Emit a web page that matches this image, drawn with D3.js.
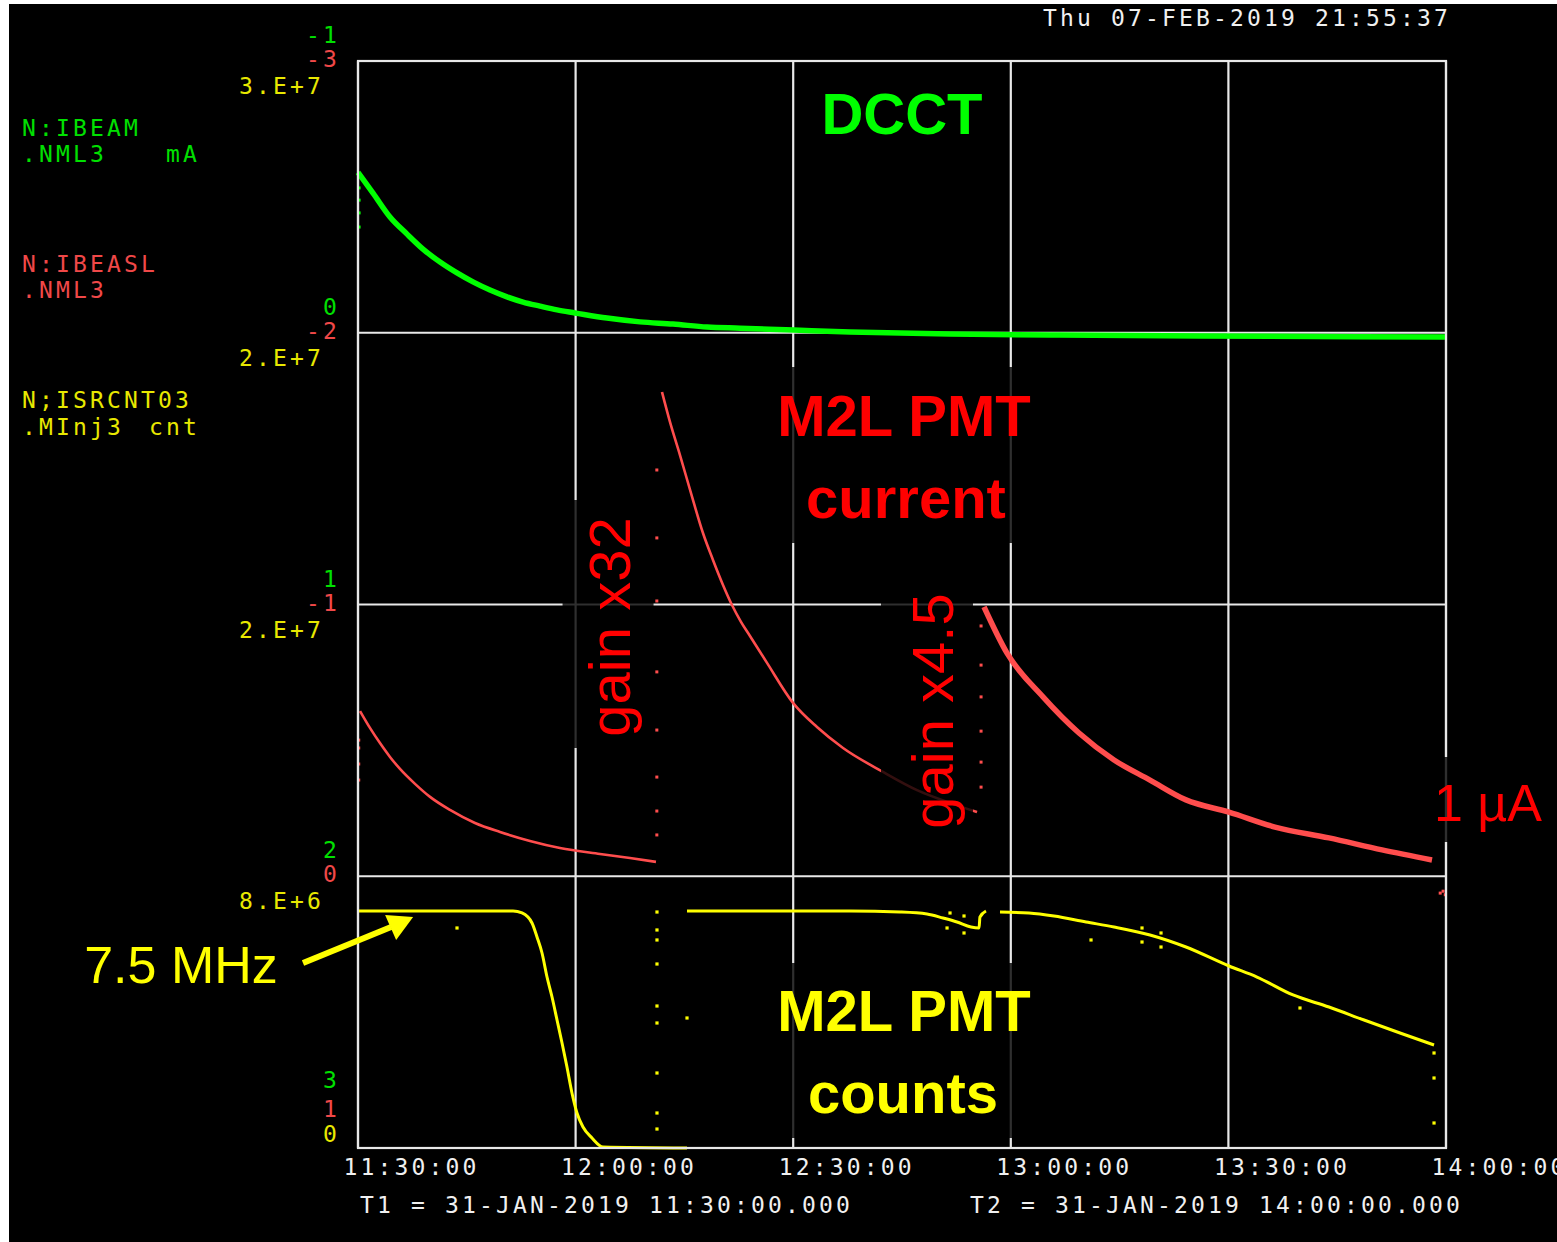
<!DOCTYPE html>
<html lang="en">
<head>
<meta charset="utf-8">
<title>DCCT / M2L PMT</title>
<script src="https://d3js.org/d3.v7.min.js"></script>
<style>
  body { margin: 0; background: #fff; }
  svg { display: block; }
  .mono { font-family: "DejaVu Sans Mono", monospace; font-size: 23px; letter-spacing: 3.15px; }
  .big { font-family: "Liberation Sans", Arial, sans-serif; }
</style>
</head>
<body>
<script>
// times are minutes after 31-JAN-2019 11:30:00

// N:IBEAM (DCCT, mA)
var dcctT = [0, 2.07, 4.41, 6.76, 8.96, 11.31, 13.65, 15.85, 18.2, 20.54, 22.75, 25.09, 27.44, 29.92,
             34.33, 38.88, 43.43, 48.12, 52.67, 60.11, 67.83, 81.62, 95.4, 116.1, 150];
var dcctV = [-0.59, -0.514, -0.426, -0.363, -0.308, -0.26, -0.22, -0.187, -0.157, -0.132, -0.113, -0.098, -0.084, -0.073,
             -0.054, -0.04, -0.032, -0.021, -0.017, -0.01, -0.003, 0.005, 0.008, 0.012, 0.016];
var dcctEdgeV = [-0.533, -0.488, -0.441, -0.389];

// N:IBEASL (M2L PMT current) - three gain segments
var pmt1T = [0.28, 1.65, 3.03, 4.41, 5.79, 7.86, 9.93, 12.68, 16.13, 19.58, 23.71, 27.85, 33.36, 37.5, 41.08];
var pmt1V = [-0.608, -0.546, -0.49, -0.439, -0.395, -0.34, -0.292, -0.244, -0.196, -0.163, -0.13, -0.104, -0.082, -0.067, -0.053];
var pmt2T = [41.91, 43.01, 44.39, 46.19, 47.56, 48.94, 50.32, 51.56, 52.8, 54.04, 56.39, 59.97, 63.28, 66.87, 72.38, 77.07, 81.62, 85.34];
var pmt2V = [-1.782, -1.672, -1.55, -1.384, -1.263, -1.164, -1.072, -0.998, -0.936, -0.884, -0.785, -0.638, -0.549, -0.472, -0.384, -0.317, -0.27, -0.236];
var pmt3T = [86.31, 89.48, 94.44, 99.4, 104.23, 109.19, 114.15, 120.08, 126.42, 133.87, 141.18, 148.07];
var pmt3V = [-0.991, -0.821, -0.66, -0.527, -0.428, -0.354, -0.281, -0.236, -0.181, -0.141, -0.097, -0.06];
var pmtDotT = [41.2, 41.2, 41.2, 41.2, 41.2, 41.2, 41.2, 41.2, 85.9, 85.9, 85.9, 85.9, 85.9, 85.9, 0.1, 0.1, 0.1, 0.1, 149.2, 149.6, 149.9];
var pmtDotV = [-1.495, -1.245, -1.013, -0.752, -0.538, -0.365, -0.24, -0.152, -0.921, -0.777, -0.66, -0.534, -0.42, -0.328,
               -0.501, -0.472, -0.413, -0.354, 0.062, 0.055, 0.068];

// N;ISRCNT03 (M2L PMT counts)
var cnt1T = [0, 21.37, 22.61, 23.99, 24.68, 25.37, 26.06, 26.75, 27.44, 28.13, 28.81, 29.5, 30.19, 31.02, 32.26, 33.78, 45.36];
var cnt1V = [6.541e6, 6.541e6, 6.486e6, 6.21e6, 5.823e6, 5.382e6, 4.719e6, 4.167e6, 3.533e6, 2.898e6, 2.236e6, 1.518e6, 0.966e6, 0.58e6, 0.276e6, 0.028e6, 0];
var cnt2T = [45.36, 67.83, 74.72, 78.45, 80.65, 82.58, 84.51, 85.62, 85.75, 86.58];
var cnt2V = [6.541e6, 6.541e6, 6.513e6, 6.458e6, 6.348e6, 6.238e6, 6.099e6, 6.072e6, 6.376e6, 6.541e6];
var cnt3T = [88.51, 92.51, 95.96, 100.37, 104.23, 109.19, 114.15, 120.08, 123.94, 128.91, 133.87, 138.7, 143.66, 148.35];
var cnt3V = [6.513e6, 6.486e6, 6.403e6, 6.238e6, 6.099e6, 5.879e6, 5.547e6, 5.023e6, 4.719e6, 4.223e6, 3.891e6, 3.533e6, 3.174e6, 2.843e6];
var cntDotT = [41.22, 41.22, 41.22, 41.22, 41.22, 41.22, 41.22, 41.22, 41.22, 13.65, 45.36, 81.62, 83.55, 81.21, 83.55,
               101.06, 108.09, 108.09, 110.71, 110.71, 129.87, 148.35, 148.35, 148.35];
var cntDotV = [6.513e6, 6.017e6, 5.741e6, 5.078e6, 3.919e6, 3.45e6, 2.07e6, 0.966e6, 0.524e6, 6.072e6, 3.588e6, 6.486e6, 6.403e6, 6.072e6, 5.934e6,
               5.741e6, 6.072e6, 5.685e6, 5.934e6, 5.547e6, 3.864e6, 2.622e6, 1.932e6, 0.69e6];

// axis tick labels
var greenTicks = [-1, 0, 1, 2, 3];
var redTicks = [-3, -2, -1, 0, 1];
var yellowTicks = [3e7, 2.25e7, 1.5e7, 7.5e6, 0];
var yellowTickLabels = ["3.E+7", "2.E+7", "2.E+7", "8.E+6", "0"];

var green = "#00ff00", greenTxt = "#00e000";
var red = "#ff4d4d", redTxt = "#f04848";
var yellow = "#ffff00", yellowTxt = "#e8e800";

var margin = {top: 61, right: 111, bottom: 94, left: 358},
    width = 1088, height = 1087;

var svg = d3.select("body").append("svg")
    .attr("width", 1557).attr("height", 1242);

svg.append("rect").attr("x", 9).attr("y", 4).attr("width", 1548).attr("height", 1238).attr("fill", "#000");

var g = svg.append("g").attr("transform", "translate(" + margin.left + "," + margin.top + ")");

var t0 = new Date(2019, 0, 31, 11, 30, 0);
function toDate(m) { return new Date(t0.getTime() + m * 60000); }

var x = d3.scaleTime().domain([t0, new Date(2019, 0, 31, 14, 0, 0)]).range([0, width]);
var yG = d3.scaleLinear().domain([-1, 3]).range([0, height]);
var yR = d3.scaleLinear().domain([-3, 1]).range([0, height]);
var yY = d3.scaleLinear().domain([3e7, 0]).range([0, height]);

// grid
var xTicks = x.ticks(d3.timeMinute.every(30));
g.selectAll(".vgrid").data(xTicks).enter().append("line")
    .attr("x1", function(d) { return x(d); }).attr("x2", function(d) { return x(d); })
    .attr("y1", 0).attr("y2", height)
    .attr("stroke", "#e8e8e8").attr("stroke-width", 2.2);
g.selectAll(".hgrid").data(greenTicks).enter().append("line")
    .attr("x1", 0).attr("x2", width)
    .attr("y1", function(d) { return yG(d); }).attr("y2", function(d) { return yG(d); })
    .attr("stroke", "#e8e8e8").attr("stroke-width", 2.2);

// x axis
var xAxis = g.append("g")
    .attr("transform", "translate(0," + height + ")")
    .call(d3.axisBottom(x).tickValues(xTicks).tickFormat(d3.timeFormat("%H:%M:%S")).tickSize(0));
xAxis.select(".domain").remove();
xAxis.selectAll("text")
    .attr("class", "mono")
    .attr("fill", "#f0f0f0")
    .attr("y", 27).attr("dy", 0).attr("dx", -15)
    .style("text-anchor", "start")
    .style("font-size", "23px");

// left axis labels (three stacked scales)
var n = greenTicks.length - 1;
g.selectAll(".gl").data(greenTicks).enter().append("text")
    .attr("class", "mono").attr("fill", greenTxt).attr("text-anchor", "end")
    .attr("x", -18).attr("y", function(d, i) { return yG(d) + (i === n ? -60 : -18); })
    .text(function(d) { return d; });
g.selectAll(".rl").data(redTicks).enter().append("text")
    .attr("class", "mono").attr("fill", redTxt).attr("text-anchor", "end")
    .attr("x", -18).attr("y", function(d, i) { return yR(d) + (i === n ? -31 : 6); })
    .text(function(d) { return d; });
g.selectAll(".yl").data(yellowTicks).enter().append("text")
    .attr("class", "mono").attr("fill", yellowTxt).attr("text-anchor", "end")
    .attr("x", function(d, i) { return i === n ? -18 : -34; })
    .attr("y", function(d, i) { return yY(d) + (i === n ? -6 : 33); })
    .text(function(d, i) { return yellowTickLabels[i]; });

// data
function zip(ts, vs) { return ts.map(function(t, i) { return [toDate(t), vs[i]]; }); }
function drawLine(ts, vs, ys, color, w) {
  g.append("path").datum(zip(ts, vs))
    .attr("fill", "none").attr("stroke", color).attr("stroke-width", w)
    .attr("stroke-linejoin", "round")
    .attr("d", d3.line().x(function(d) { return x(d[0]); }).y(function(d) { return ys(d[1]); }).curve(d3.curveMonotoneX));
}
function drawDots(ts, vs, ys, color, r) {
  g.append("g").selectAll("rect").data(zip(ts, vs)).enter().append("rect")
    .attr("x", function(d) { return x(d[0]) - r; })
    .attr("y", function(d) { return ys(d[1]) - r; })
    .attr("width", 2 * r).attr("height", 2 * r)
    .attr("fill", color);
}

drawLine(dcctT, dcctV, yG, green, 5.5);
drawDots(dcctEdgeV.map(function() { return 0.15; }), dcctEdgeV, yG, green, 1.5);

drawLine(pmt1T, pmt1V, yR, red, 2.6);
drawLine(pmt2T, pmt2V, yR, red, 2.6);
drawLine(pmt3T, pmt3V, yR, red, 5.5);
drawDots(pmtDotT, pmtDotV, yR, red, 1.5);

drawLine(cnt1T, cnt1V, yY, yellow, 3);
drawLine(cnt2T, cnt2V, yY, yellow, 3);
drawLine(cnt3T, cnt3V, yY, yellow, 3);
drawDots(cntDotT, cntDotV, yY, yellow, 1.6);

// frame
g.append("rect").attr("x", 0).attr("y", 0).attr("width", width).attr("height", height)
    .attr("fill", "none").attr("stroke", "#e8e8e8").attr("stroke-width", 2.2);

// annotation boxes (semi-opaque, they dim the grid underneath)
var boxes = [
  [x(toDate(28.2)), 439, 91, 248],
  [x(toDate(72.1)), 526, 92, 244],
  [x(toDate(56.7)), 306, 267, 176],
  [x(toDate(56.7)), 902, 267, 175],
  [x(toDate(147.6)), 696, 122, 85],
  [x(toDate(63.3)), 18, 175, 68]
];
g.selectAll(".box").data(boxes).enter().append("rect")
    .attr("x", function(d) { return d[0]; }).attr("y", function(d) { return d[1]; })
    .attr("width", function(d) { return d[2]; }).attr("height", function(d) { return d[3]; })
    .attr("fill", "#000").attr("fill-opacity", 0.8);

// big annotation text
function big(txt, cx, by, color, size, weight) {
  svg.append("text").attr("class", "big")
    .attr("x", cx).attr("y", by)
    .attr("text-anchor", "middle")
    .attr("fill", color)
    .style("font-size", size + "px").style("font-weight", weight)
    .text(txt);
}
big("DCCT", 902, 134, "#00ff00", 58, "bold");
big("M2L PMT", 904, 436, "#ff0000", 58, "bold");
big("current", 906, 518, "#ff0000", 58, "bold");
big("M2L PMT", 904, 1031, "#ffff00", 58, "bold");
big("counts", 903, 1113, "#ffff00", 58, "bold");
big("7.5 MHz", 181, 983, "#ffff00", 52, "normal");
big("1 \u00b5A", 1488, 821, "#ff0000", 52, "normal");

svg.append("text").attr("class", "big")
    .attr("transform", "translate(630,627) rotate(-90)")
    .attr("text-anchor", "middle").attr("fill", "#ff0000")
    .style("font-size", "58px").text("gain x32");
svg.append("text").attr("class", "big")
    .attr("transform", "translate(953,711) rotate(-90)")
    .attr("text-anchor", "middle").attr("fill", "#ff0000")
    .style("font-size", "58px").text("gain x4.5");

// arrow to the 7.5 MHz plateau
var tipX = margin.left + x(toDate(7.6)), tipY = margin.top + yY(6.541e6) + 6;
svg.append("line").attr("x1", 303).attr("y1", 963).attr("x2", tipX - 22).attr("y2", tipY + 10)
    .attr("stroke", "#ffff00").attr("stroke-width", 6);
svg.append("polygon")
    .attr("points", [[tipX, tipY], [tipX - 28, tipY - 2], [tipX - 17, tipY + 23]].join(" "))
    .attr("fill", "#ffff00");

// legend
var legend = [
  {t: "N:IBEAM", y: 136, c: greenTxt}, {t: ".NML3", y: 162, c: greenTxt},
  {t: "N:IBEASL", y: 272, c: redTxt}, {t: ".NML3", y: 298, c: redTxt},
  {t: "N;ISRCNT03", y: 408, c: yellowTxt}, {t: ".MInj3", y: 435, c: yellowTxt}
];
svg.selectAll(".leg").data(legend).enter().append("text")
    .attr("class", "mono").attr("x", 22).attr("y", function(d) { return d.y; })
    .attr("fill", function(d) { return d.c; }).text(function(d) { return d.t; });
svg.append("text").attr("class", "mono").attr("x", 166).attr("y", 162).attr("fill", greenTxt).text("mA");
svg.append("text").attr("class", "mono").attr("x", 149).attr("y", 435).attr("fill", yellowTxt).text("cnt");

// header and footer
svg.append("text").attr("class", "mono").attr("x", 1043).attr("y", 26).attr("fill", "#f0f0f0")
    .text("Thu 07-FEB-2019 21:55:37");
svg.append("text").attr("class", "mono").attr("x", 360).attr("y", 1213).attr("fill", "#f0f0f0")
    .text("T1 = 31-JAN-2019 11:30:00.000");
svg.append("text").attr("class", "mono").attr("x", 970).attr("y", 1213).attr("fill", "#f0f0f0")
    .text("T2 = 31-JAN-2019 14:00:00.000");
</script>
</body>
</html>
